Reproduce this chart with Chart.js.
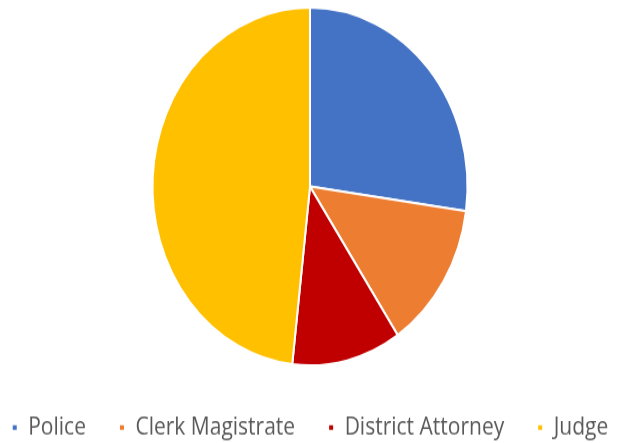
<!DOCTYPE html>
<html>
<head>
<meta charset="utf-8">
<script src="https://cdn.jsdelivr.net/npm/chart.js@4/dist/chart.umd.min.js"></script>
<style>
  html, body { margin: 0; padding: 0; background: #fff; overflow: hidden; width: 619px; height: 443px; position: relative; }
  #wrap { position: absolute; left: -40px; top: -4.544px; width: 699px; height: 402px; transform: scaleY(1.136); transform-origin: 0 0; }
</style>
</head>
<body>
<div id="wrap"><canvas id="c" width="699" height="402"></canvas></div>
<script>
const categories = ["Police", "Clerk Magistrate", "District Attorney", "Judge"];
const shares = [27.2, 13.4, 11.2, 48.2];
const colors = ["#4472C4", "#ED7D31", "#C00000", "#FFC000"];

new Chart(document.getElementById('c'), {
  type: 'pie',
  data: {
    labels: categories,
    datasets: [{
      data: shares,
      backgroundColor: colors,
      borderColor: '#ffffff',
      borderWidth: 2
    }]
  },
  options: {
    responsive: false,
    animation: false,
    devicePixelRatio: 1,
    radius: 157.5,
    layout: { padding: { left: 1, right: 0, top: 0, bottom: 0.8 } },
    plugins: {
      tooltip: { enabled: false },
      legend: {
        position: 'bottom',
        labels: {
          boxWidth: 6,
          boxHeight: 6,
          padding: 33,
          color: '#595959',
          font: { family: "'Open Sans'", size: 21 }
        }
      }
    }
  }
});
</script>
</body>
</html>
